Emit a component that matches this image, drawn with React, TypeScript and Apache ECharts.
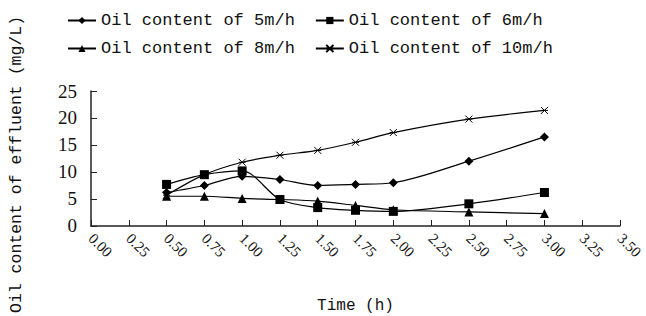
import React, { useEffect, useRef } from "react";
import * as echarts from "echarts";

const times = [0.5, 0.75, 1.0, 1.25, 1.5, 1.75, 2.0, 2.5, 3.0];
const oil5 = [6.2, 7.5, 9.2, 8.6, 7.5, 7.7, 8.0, 12.0, 16.5];
const oil6 = [7.7, 9.5, 10.2, 4.9, 3.4, 2.9, 2.7, 4.1, 6.2];
const oil8 = [5.5, 5.5, 5.1, 4.9, 4.6, 3.8, 3.0, 2.6, 2.3];
const oil10 = [5.7, 9.5, 11.8, 13.1, 14.0, 15.5, 17.3, 19.8, 21.4];
const seriesNames = [
  "Oil content of 5m/h",
  "Oil content of 6m/h",
  "Oil content of 8m/h",
  "Oil content of 10m/h",
];

const MONO = "'Liberation Mono', 'DejaVu Sans Mono', monospace";
const SERIF = "'Liberation Serif', 'DejaVu Serif', serif";
const starPath = "path://M0,0L10,10M10,0L0,10M0,5L10,5";

export default function App() {
  const ref = useRef<HTMLDivElement>(null);
  useEffect(() => {
    if (!ref.current) return;
    const chart = echarts.init(ref.current, null, { renderer: "svg" });
    const mk = (name: string, vals: number[], symbol: string, size: number) => ({
      name,
      type: "line",
      data: times.map((t, i) => [t, vals[i]]),
      smooth: 0.3,
      symbol,
      symbolSize: size,
      showAllSymbol: true,
      lineStyle: { color: "#000", width: 1.2 },
      itemStyle: { color: "#000", borderColor: "#000", borderWidth: symbol === starPath ? 1 : 0 },
    });
    const legendCommon = {
      left: 62,
      itemWidth: 28,
      itemHeight: 9,
      itemGap: 20,
      textStyle: { fontFamily: MONO, fontSize: 17, color: "#111" },
    };
    chart.setOption({
      animation: false,
      backgroundColor: "#fff",
      legend: [
        { ...legendCommon, data: [seriesNames[0], seriesNames[1]], top: 7 },
        { ...legendCommon, data: [seriesNames[2], seriesNames[3]], top: 35 },
      ],
      grid: { left: 85, right: 24, top: 91, bottom: 90, containLabel: false },
      xAxis: {
        type: "value",
        min: 0,
        max: 3.5,
        interval: 0.25,
        name: "Time (h)",
        nameLocation: "middle",
        nameGap: 72,
        nameTextStyle: { fontFamily: MONO, fontSize: 16, color: "#111" },
        axisLine: { lineStyle: { color: "#222", width: 1.5 } },
        axisTick: { inside: true, length: 6, lineStyle: { color: "#222" } },
        splitLine: { show: false },
        axisLabel: {
          rotate: -45,
          fontFamily: SERIF,
          fontSize: 15,
          color: "#111",
          margin: 10,
          formatter: (v: number) => v.toFixed(2),
        },
      },
      yAxis: {
        type: "value",
        min: 0,
        max: 25,
        interval: 5,
        name: "Oil content of effluent (mg/L)",
        nameLocation: "middle",
        nameGap: 66,
        nameTextStyle: { fontFamily: MONO, fontSize: 16.5, color: "#111", padding: [0, 12, 0, 0] },
        axisLine: { show: true, lineStyle: { color: "#222", width: 1.5 } },
        axisTick: { show: true, inside: true, length: 6, lineStyle: { color: "#222" } },
        splitLine: { show: false },
        axisLabel: { fontFamily: SERIF, fontSize: 19, color: "#111", margin: 14 },
      },
      series: [
        mk(seriesNames[0], oil5, "diamond", 9),
        mk(seriesNames[1], oil6, "rect", 9),
        mk(seriesNames[2], oil8, "triangle", 9),
        mk(seriesNames[3], oil10, starPath, 7),
      ],
    });
    return () => chart.dispose();
  }, []);
  return (
    <div
      ref={ref}
      style={{ position: "fixed", left: 0, top: 0, width: 646, height: 316 }}
    />
  );
}
